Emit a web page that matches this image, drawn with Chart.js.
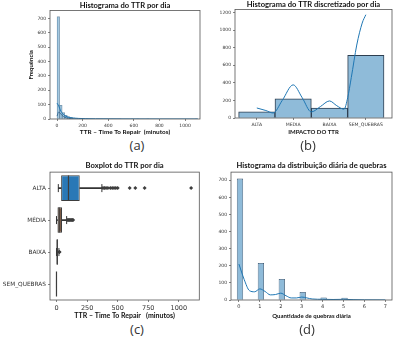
<!DOCTYPE html>
<html>
<head>
<meta charset="utf-8">
<script src="https://cdn.jsdelivr.net/npm/chart.js@4"></script>
<style>
  body { margin: 0; background: #fff; width: 395px; height: 339px; position: relative; overflow: hidden; }
  canvas { position: absolute; }
  .tag { position: absolute; font: 13px 'Open Sans', sans-serif; color: #333; transform: translate(-50%, -50%); }
</style>
</head>
<body>
<canvas id="chartA" style="left:0;top:0" width="202" height="136"></canvas>
<canvas id="chartB" style="left:200px;top:0" width="194" height="136"></canvas>
<canvas id="chartC" style="left:0;top:158px" width="213" height="162"></canvas>
<canvas id="chartD" style="left:198px;top:158px" width="196" height="162"></canvas>
<div class="tag" style="left:137px;top:145px">(a)</div>
<div class="tag" style="left:308px;top:145px">(b)</div>
<div class="tag" style="left:137px;top:329px">(c)</div>
<div class="tag" style="left:307px;top:329px">(d)</div>
<script>
// --- (a) histogram of TTR per day (bin centres, 20 min bins) ---
const histA_x = [10, 30, 50, 70, 90, 110, 130, 150, 170, 190, 210, 230, 250, 270, 290, 310, 330, 350, 370, 390, 410, 430, 450, 470, 490, 590, 630, 710, 1090];
const histA_y = [712, 95, 45, 26, 16, 11, 8, 6, 5, 4, 3, 3, 2, 2, 2, 2, 1, 1, 1, 1, 1, 1, 1, 1, 1, 1, 1, 1, 1];
const kdeA_x = [0, 10, 20, 30, 45, 60, 80, 100, 130, 170, 220, 300, 400, 600, 800, 1100];
const kdeA_y = [110, 96, 75, 55, 36, 24, 15, 10, 6, 4, 2.5, 1.5, 1, 0.5, 0.2, 0.1];
const kdeA2_x = [0, 12, 25, 40, 60, 90, 130];
const kdeA2_y = [20, 48, 40, 25, 12, 5, 1];
const ticksA_x = [0, 200, 400, 600, 800, 1000];
const ticksA_y = [0, 100, 200, 300, 400, 500, 600, 700];

// --- (b) discretised TTR ---
const catsB = ['ALTA', 'MEDIA', 'BAIXA', 'SEM_QUEBRAS'];
const countsB = [69, 217, 114, 712];
const kdeB_x = [0, 0.25, 0.45, 0.7, 1, 1.25, 1.5, 1.75, 2, 2.2, 2.4, 2.5, 2.6, 2.75, 2.9, 3];
const kdeB_y = [114, 85, 57, 200, 377, 230, 69, 130, 194, 140, 100, 230, 460, 830, 1080, 1175];
const ticksB_y = [0, 200, 400, 600, 800, 1000, 1200];

// --- (c) boxplot of TTR per impact class ---
const catsC = ['ALTA', 'MÉDIA', 'BAIXA', 'SEM_QUEBRAS'];
const boxLo = [15, 0, 0, 0];
const boxQ1 = [38, 8, 0, 0];
const boxMed = [98, 22, 5, 0];
const boxQ3 = [190, 45, 12, 0];
const boxHi = [371, 83, 20, 0];
const outAlta = [380, 392, 405, 420, 440, 455, 470, 485, 500, 598, 644, 720, 1100];
const outMedia = [90, 97, 104, 110, 117, 124, 130, 136];
const outBaixa = [22, 25];
const ticksC_x = [0, 250, 500, 750, 1000];

// --- (d) daily count of breakdowns ---
const countsD_x = [0, 1, 2, 3, 4, 5, 6, 7];
const countsD_y = [710, 216, 123, 47, 15, 13, 2, 1];
const kdeD_x = [0, 0.25, 0.5, 0.75, 1, 1.25, 1.5, 1.75, 2, 2.25, 2.5, 2.75, 3, 3.5, 4, 4.5, 5, 5.5, 6, 7];
const kdeD_y = [210, 120, 55, 48, 65, 50, 30, 32, 40, 25, 12, 12, 17, 6, 4, 3, 4, 2, 1, 0.3];
const ticksD_x = [0, 1, 2, 3, 4, 5, 6, 7];
const ticksD_y = [0, 100, 200, 300, 400, 500, 600, 700];

const INK = '#333';
const pts = (xs, ys) => xs.map((x, i) => ({ x: x, y: ys[i] }));

// box around the plot area, like matplotlib spines
const frame = {
  id: 'frame',
  afterDraw(chart) {
    const a = chart.chartArea, c = chart.ctx;
    c.save();
    c.strokeStyle = '#555';
    c.lineWidth = 0.8;
    c.strokeRect(a.left, a.top, a.right - a.left, a.bottom - a.top);
    c.restore();
  }
};

function titleOpts(text, padTop, padBottom) {
  return { display: true, text: text, fullSize: false, color: '#111',
    font: { family: 'Lato', weight: 'bold', size: 7.6 }, padding: { top: padTop, bottom: padBottom } };
}

function linAxis(min, max, vals, size, fit, fmt, title, titleSize) {
  return {
    type: 'linear', min: min, max: max, offset: false,
    afterBuildTicks: s => { s.ticks = vals.map(v => ({ value: v })); },
    afterFit: s => { if (s.isHorizontal()) s.height = fit; else s.width = fit; },
    ticks: { color: INK, padding: 2, autoSkip: false, maxRotation: 0, minRotation: 0,
             font: { family: 'DejaVu Sans', size: size }, callback: fmt || (v => String(v)) },
    grid: { display: true, offset: false, drawOnChartArea: false, drawTicks: true, tickLength: 2, color: INK, lineWidth: 0.6 },
    border: { display: false },
    title: title ? { display: true, text: title, color: '#111', padding: 0,
      font: { family: 'Lato', weight: 'bold', size: titleSize } } : { display: false }
  };
}

const base = {
  responsive: false, animation: false,
  plugins: { legend: { display: false }, tooltip: { enabled: false } }
};

// (a)
new Chart('chartA', {
  type: 'bar',
  data: { datasets: [
    { data: pts(histA_x, histA_y), backgroundColor: 'rgba(31,119,180,0.4)', borderColor: 'rgba(50,70,90,0.45)',
      borderWidth: 0.3, barPercentage: 1, categoryPercentage: 1, order: 2 },
    { type: 'line', data: pts(kdeA2_x, kdeA2_y), borderColor: '#2b5f8a', borderWidth: 0.8, pointRadius: 0,
      cubicInterpolationMode: 'monotone', order: 1 },
    { type: 'line', data: pts(kdeA_x, kdeA_y), borderColor: '#1f77b4', borderWidth: 1, pointRadius: 0,
      cubicInterpolationMode: 'monotone', order: 0 }
  ]},
  options: { ...base,
    layout: { padding: { right: 2 } },
    plugins: { ...base.plugins, title: titleOpts('Histograma do TTR por dia', 0.7, 0.7) },
    scales: {
      x: linAxis(-55, 1117, ticksA_x, 4.5, 17, null, 'TTR – Time To Repair  (minutos)', 6.4),
      y: { ...linAxis(0, 755, ticksA_y, 4.5, 50),
           title: { display: true, text: 'Frequência', color: '#111', padding: { top: 27, bottom: 0 },
                    font: { family: 'Lato', weight: 'bold', size: 6 } } }
    }
  },
  plugins: [frame]
});

// (b)
new Chart('chartB', {
  type: 'bar',
  data: { datasets: [
    { data: pts([0, 1, 2, 3], countsB), backgroundColor: '#8fbbd9', borderColor: '#2d3e50', borderWidth: 1,
      barPercentage: 1, categoryPercentage: 1, order: 1 },
    { type: 'line', data: pts(kdeB_x, kdeB_y), borderColor: '#1f77b4', borderWidth: 1, pointRadius: 0,
      cubicInterpolationMode: 'monotone', order: 0 }
  ]},
  options: { ...base,
    layout: { padding: { right: 2 } },
    plugins: { ...base.plugins, title: titleOpts('Histograma do TTR discretizado por dia', 0.2, 0.2) },
    scales: {
      x: linAxis(-0.6, 3.72, [0, 1, 2, 3], 4.6, 18, v => catsB[v], 'IMPACTO DO TTR', 6),
      y: linAxis(0, 1234, ticksB_y, 4.5, 35)
    }
  },
  plugins: [frame]
});

// (c) boxplot built from floating bars + scatter markers
const boxColors = ['#2a78b6', '#7a5a45', '#3a8a3a', '#c03d3e'];
new Chart('chartC', {
  type: 'bar',
  data: { labels: catsC, datasets: [
    { indexAxis: 'y', grouped: false, data: catsC.map((c, i) => [boxLo[i], boxQ1[i]]), backgroundColor: INK, barThickness: 1, order: 4 },
    { indexAxis: 'y', grouped: false, data: catsC.map((c, i) => [boxQ3[i], boxHi[i]]), backgroundColor: INK, barThickness: 1, order: 4 },
    { indexAxis: 'y', grouped: false, data: catsC.map((c, i) => [boxQ1[i], boxQ3[i]]), backgroundColor: boxColors,
      borderColor: '#3d3d3d', borderWidth: 1, borderSkipped: false, barPercentage: 0.8, categoryPercentage: 1, order: 3 },
    { type: 'scatter', data: catsC.map((c, i) => ({ x: boxMed[i], y: c })), pointStyle: 'line', rotation: 90,
      radius: 12.5, borderColor: '#3d3d3d', borderWidth: 1.2, order: 1 },
    { type: 'scatter', data: catsC.map((c, i) => ({ x: boxHi[i], y: c })).concat(catsC.map((c, i) => ({ x: boxLo[i], y: c }))),
      pointStyle: 'line', rotation: 90, radius: 4, borderColor: INK, borderWidth: 1, order: 1 },
    { type: 'scatter', data: outAlta.map(v => ({ x: v, y: 'ALTA' }))
        .concat(outMedia.map(v => ({ x: v, y: 'MÉDIA' })), outBaixa.map(v => ({ x: v, y: 'BAIXA' }))),
      pointStyle: 'rectRot', radius: 2, backgroundColor: '#3d3d3d', borderColor: '#3d3d3d', borderWidth: 0, order: 0 }
  ]},
  options: { ...base,
    layout: { padding: { right: 2 } },
    plugins: { ...base.plugins, title: titleOpts('Boxplot do TTR por dia', 2.5, 2.5) },
    scales: {
      x: linAxis(-53, 1167, ticksC_x, 6.5, 20, null, 'TTR – Time To Repair   (minutos)', 7),
      y: { type: 'category', offset: true,
           afterFit: s => { s.width = 50; },
           ticks: { color: INK, padding: 2, font: { family: 'DejaVu Sans', size: 5.8 } },
           grid: { display: true, offset: false, drawOnChartArea: false, drawTicks: true, tickLength: 2, color: INK, lineWidth: 0.6 },
           border: { display: false } }
    }
  },
  plugins: [frame]
});

// (d)
new Chart('chartD', {
  type: 'bar',
  data: { datasets: [
    { data: pts(countsD_x.map(v => v + 0.05), countsD_y), backgroundColor: '#8fbbd9', borderColor: '#34526e', borderWidth: 0.8,
      barPercentage: 0.3, categoryPercentage: 1, order: 1 },
    { type: 'line', data: pts(kdeD_x, kdeD_y), borderColor: '#1f77b4', borderWidth: 1, pointRadius: 0,
      cubicInterpolationMode: 'monotone', order: 0 }
  ]},
  options: { ...base,
    layout: { padding: { right: 2 } },
    plugins: { ...base.plugins, title: titleOpts('Histograma da distribuição diária de quebras', 2.5, 2.5) },
    scales: {
      x: linAxis(-0.38, 7.32, ticksD_x, 5, 20, null, 'Quantidade de quebras diária', 6),
      y: linAxis(0, 748, ticksD_y, 4.5, 33)
    }
  },
  plugins: [frame]
});
</script>
</body>
</html>
